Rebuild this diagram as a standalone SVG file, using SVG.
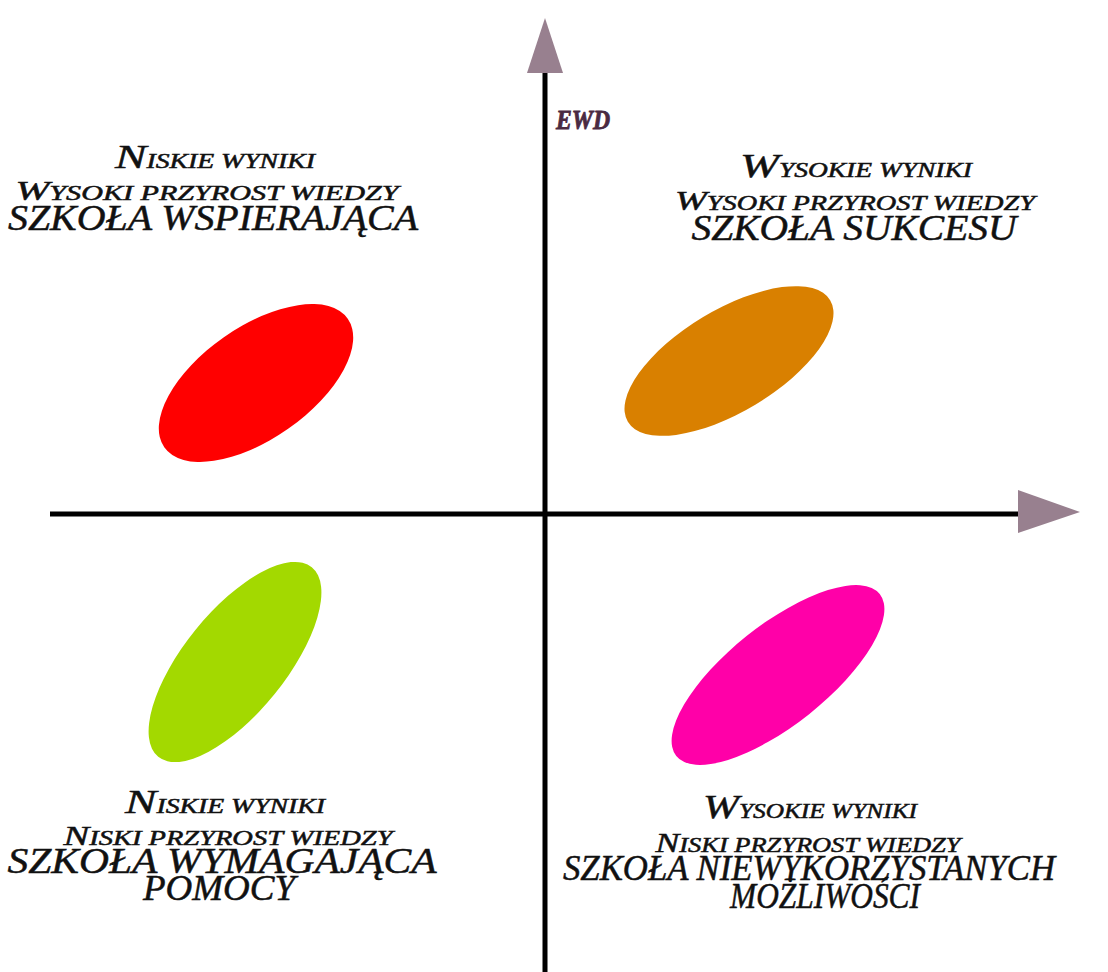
<svg xmlns="http://www.w3.org/2000/svg" width="1108" height="972" viewBox="0 0 1108 972">
<style>
.t{font-family:"Liberation Serif","Times New Roman",serif;font-style:italic;fill:#111;stroke:#111;stroke-width:0.5;text-anchor:middle}
.b1{font-size:34px}.b2{font-size:27px}.s{font-size:20px}.h{font-size:36px}
.ax{stroke:#000;stroke-width:5;fill:none}
.ah{fill:#98808f}
.ewd{font-family:"Liberation Serif","Times New Roman",serif;font-style:italic;font-weight:bold;font-size:27px;fill:#4a2a42;stroke:#4a2a42;stroke-width:0.8}
</style>
<rect width="1108" height="972" fill="#fff"/>
<g id="axes">
<line class="ax" x1="545" y1="70" x2="545" y2="972"/>
<line class="ax" x1="50" y1="514" x2="1022" y2="514"/>
<polygon class="ah" points="545,18 563,73 527,73"/>
<polygon class="ah" points="1080,512 1018,490 1018,533"/>
<text class="ewd" x="556" y="129" textLength="54" lengthAdjust="spacingAndGlyphs">EWD</text>
</g>
<g id="q-top-left">
<ellipse cx="256" cy="383" rx="112" ry="56" fill="#ff0000" transform="rotate(-35 256 383)"/>
<text class="t" x="215" y="168" textLength="200" lengthAdjust="spacingAndGlyphs"><tspan class="b1">N</tspan><tspan class="s">ISKIE WYNIKI</tspan></text>
<text class="t" x="207" y="200" textLength="383" lengthAdjust="spacingAndGlyphs"><tspan class="b2">W</tspan><tspan class="s">YSOKI PRZYROST WIEDZY</tspan></text>
<text class="t h" x="213" y="230" textLength="410" lengthAdjust="spacingAndGlyphs">SZKOŁA WSPIERAJĄCA</text>
</g>
<g id="q-top-right">
<ellipse cx="729" cy="361" rx="118" ry="51" fill="#d98000" transform="rotate(-31 729 361)"/>
<text class="t" x="856" y="177" textLength="232" lengthAdjust="spacingAndGlyphs"><tspan class="b1">W</tspan><tspan class="s">YSOKIE WYNIKI</tspan></text>
<text class="t" x="855" y="210" textLength="360" lengthAdjust="spacingAndGlyphs"><tspan class="b2">W</tspan><tspan class="s">YSOKI PRZYROST WIEDZY</tspan></text>
<text class="t h" x="854" y="240" textLength="325" lengthAdjust="spacingAndGlyphs">SZKOŁA SUKCESU</text>
</g>
<g id="q-bottom-left">
<ellipse cx="235" cy="662" rx="122" ry="51" fill="#a3d900" transform="rotate(-51 235 662)"/>
<text class="t" x="225" y="813" textLength="200" lengthAdjust="spacingAndGlyphs"><tspan class="b1">N</tspan><tspan class="s">ISKIE WYNIKI</tspan></text>
<text class="t" x="228" y="845" textLength="329" lengthAdjust="spacingAndGlyphs"><tspan class="b2">N</tspan><tspan class="s">ISKI PRZYROST WIEDZY</tspan></text>
<text class="t h" x="222" y="873" textLength="429" lengthAdjust="spacingAndGlyphs">SZKOŁA WYMAGAJĄCA</text>
<text class="t h" x="219" y="900" textLength="152" lengthAdjust="spacingAndGlyphs">POMOCY</text>
</g>
<g id="q-bottom-right">
<ellipse cx="778" cy="675" rx="130" ry="50" fill="#ff00a8" transform="rotate(-38.5 778 675)"/>
<text class="t" x="810" y="818" textLength="214" lengthAdjust="spacingAndGlyphs"><tspan class="b1">W</tspan><tspan class="s">YSOKIE WYNIKI</tspan></text>
<text class="t" x="808" y="852" textLength="305" lengthAdjust="spacingAndGlyphs"><tspan class="b2">N</tspan><tspan class="s">ISKI PRZYROST WIEDZY</tspan></text>
<text class="t h" x="809" y="880" textLength="492" lengthAdjust="spacingAndGlyphs">SZKOŁA NIEWYKORZYSTANYCH</text>
<text class="t h" x="825" y="908" textLength="190" lengthAdjust="spacingAndGlyphs">MOŻLIWOŚCI</text>
</g>
</svg>
